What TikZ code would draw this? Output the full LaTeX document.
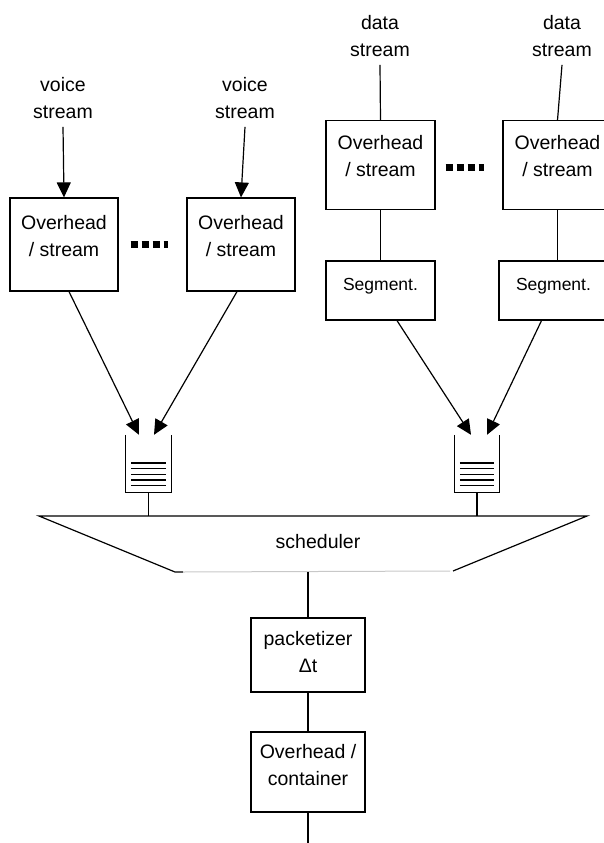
\documentclass[tikz,border=0pt]{standalone}
\usepackage{fontspec}
\setmainfont{Liberation Sans}
\usepackage{tikz}
\usetikzlibrary{arrows.meta,calc}
\definecolor{SchedGray}{HTML}{C8C8C8}
\tikzset{
  arr/.style={-{Triangle[length=15pt,width=14pt]}, line width=1.2pt},
  link/.style={line width=1.2pt},
  box/.style={draw, line width=1.2pt, align=center, inner sep=0pt},
  seg/.style={box, font=\fontsize{17.5}{22}\selectfont, text depth=12pt},
  lifted/.style={text depth=#1},
  src/.style={align=center, inner sep=0pt},
  queue/.style={minimum width=45pt, minimum height=57pt, inner sep=0pt},
  dotrow/.style={line width=7pt, dash pattern=on 7pt off 4pt},
}
\begin{document}
\begin{tikzpicture}[x=1pt,y=-1pt,font=\fontsize{19.5}{27}\selectfont]
    \clip (0,0) rectangle (604,843);
    % voice side
    \node[src] (vs1) at (63,98) {voice\\stream};
    \node[src] (vs2) at (245,98) {voice\\stream};
    \node[box,lifted=18pt,minimum width=108pt,minimum height=93pt] (ov1) at (64,244.5) {Overhead\\/ stream};
    \node[box,lifted=18pt,minimum width=108pt,minimum height=93pt] (ov2) at (241,244.5) {Overhead\\/ stream};
    % data side
    \node[src] (ds1) at (380,36) {data\\stream};
    \node[src] (ds2) at (562,36) {data\\stream};
    \node[box,lifted=18pt,minimum width=109pt,minimum height=88.5pt] (od1) at (380.5,165) {Overhead\\/ stream};
    \node[box,lifted=18pt,minimum width=109pt,minimum height=88.5pt] (od2) at (557.5,165) {Overhead\\/ stream};
    \node[seg,minimum width=109pt,minimum height=59pt] (sg1) at (380.5,290.5) {Segment.};
    \node[seg,minimum width=109pt,minimum height=59pt] (sg2) at (553.5,290.5) {Segment.};
    % queues
    \node[queue] (qv) at (148.5,463.5) {};
    \node[queue] (qd) at (477,463.5) {};
    \foreach \q in {qv,qd} {
      \draw[link] (\q.north west) |- (\q.south east) -- (\q.north east);
      \foreach \k in {0,...,4}
        \draw[line width=1.3pt] ($(\q.south west)+(5.5,-6.5-\k*5.7)$) -- ++(34.5,0);
    }
    % scheduler
    \coordinate (stl) at (39,516);
    \coordinate (str) at (587,516);
    \coordinate (sbr) at (453,571);
    \coordinate (sbl) at (175,572);
    \coordinate (sout) at (308,572);
    \node (sched) at (318,542) {scheduler};
    \draw[link] ([xshift=8pt]sbl) -- (sbl) -- (stl) -- (str) -- (sbr);
    \draw[line width=1pt,SchedGray] ([xshift=8pt]sbl) -- ([xshift=-3pt]sbr);
    % output chain
    \node[box,lifted=7pt,minimum width=114pt,minimum height=74pt] (pk) at (308,655) {packetizer\\Δt};
    \node[box,lifted=14pt,minimum width=114pt,minimum height=80pt] (oc) at (308,772) {Overhead /\\container};
    \coordinate (out) at (308,843);
    % connectors
    \draw[arr] ([yshift=-8pt]vs1.south) -- (ov1.north);
    \draw[arr] ([yshift=-8pt]vs2.south) -- (ov2.north);
    \draw[link] ([yshift=-8pt]ds1.south) -- (od1.north);
    \draw[link] ([yshift=-8pt]ds2.south) -- (od2.north);
    \draw[link] (od1.south) -- (sg1.north);
    \draw[link] (od2.south) -- (od2.south |- sg2.north);
    \draw[dotrow,shorten <=12pt,shorten >=18pt] (ov1) -- (ov2);
    \draw[dotrow,shorten <=10pt,shorten >=18pt] ([yshift=-2pt]od1.east) -- ([yshift=-2pt]od2.west);
    \draw[arr] ([xshift=5pt]ov1.south) -- ([xshift=-9.5pt]qv.north);
    \draw[arr] ([xshift=-4pt]ov2.south) -- ([xshift=5.5pt]qv.north);
    \draw[arr] ([xshift=16.5pt]sg1.south) -- ([xshift=-6pt]qd.north);
    \draw[arr] ([xshift=-12pt]sg2.south) -- ([xshift=10pt]qd.north);
    \draw[link] (qv.south) -- (qv.south |- stl);
    \draw[link] (qd.south) -- (qd.south |- stl);
    \draw[link] (sout) -- (pk.north);
    \draw[link] (pk) -- (oc);
    \draw[link] (oc) -- (out);
  \end{tikzpicture}
\end{document}
